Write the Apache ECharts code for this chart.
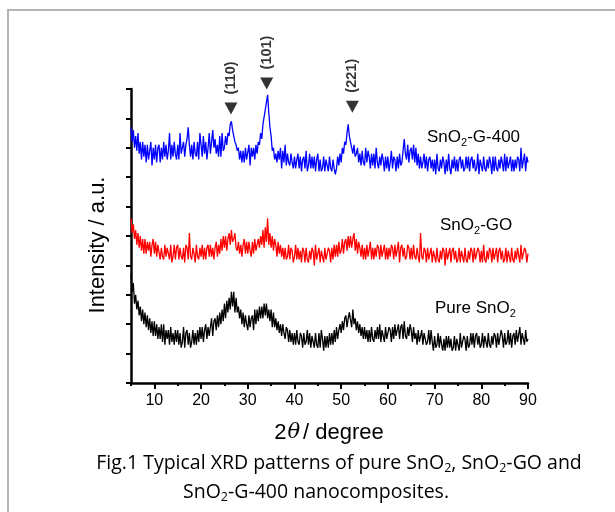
<!DOCTYPE html>
<html>
<head>
<meta charset="utf-8">
<script src="https://cdn.jsdelivr.net/npm/echarts@6/dist/echarts.min.js"></script>
<style>
  html, body { margin: 0; padding: 0; background: #fff; }
  #chart { width: 615px; height: 512px; }
</style>
</head>
<body>
<div id="chart"></div>
<script>
// 2θ scan: 5° to 90° sampled every 0.25°
const START_ANGLE = 5;
const STEP = 0.25;

// Intensities (arbitrary units, stacked offsets) one row per degree: x.00, x.25, x.50, x.75
const sno2G400 = [
  87,82,86,80, 84,79,85,78, 82,76,82,77, 81,75,81,76, 79,82,74,80,
  76,81,75,80, 81,75,80,76, 82,77,81,76, 79,85,76,81, 77,82,78,76,
  81,76,85,78, 78,82,77,81, 83,87,81,77, 81,76,82,78, 77,82,76,85,
  81,77,84,78, 82,76,80,85, 78,82,86,80, 83,78,81,77, 84,77,85,79,
  80,84,81,85, 84,88,89,86, 86,82,81,79, 80,76,79,75, 79,75,80,76,
  76,81,74,80, 77,80,76,81, 78,82,81,85, 83,88,88,93, 93,98,92,87,
  84,79,80,76, 78,75,79,76, 80,73,79,75, 81,74,78,75, 74,78,75,73,
  77,73,76,78, 73,77,72,76, 77,73,79,72, 74,78,73,77, 73,77,72,76,
  78,72,76,72, 73,77,72,76, 76,72,77,73, 72,76,73,71, 73,77,74,78,
  75,80,78,82, 81,85,88,84, 84,80,78,81, 77,78,80,75, 78,74,79,75,
  74,80,75,79, 77,73,78,74, 78,73,80,75, 73,77,74,78, 76,72,77,73,
  77,72,75,79, 73,77,76,72, 77,73,78,74, 75,79,83,78, 76,81,75,79,
  80,76,81,75, 80,74,78,73, 77,73,75,78, 73,77,72,76, 77,73,76,72,
  76,71,78,73, 72,76,73,77, 75,71,76,72, 78,73,71,76, 73,77,72,76,
  72,76,77,73, 76,72,73,77, 73,77,72,76, 77,73,76,72, 73,78,71,76,
  76,72,77,73, 72,76,73,77, 75,71,77,72, 77,73,72,76, 73,77,75,72,
  78,72,77,73, 73,77,72,76, 72,76,73,77, 76,72,80,73, 73,78,72,77,
  75
];

const sno2GO = [
  56,51,54,49, 52,47,51,46, 50,45,49,44, 49,44,48,45, 48,43,47,49,
  44,48,43,47, 47,42,46,43, 42,47,43,46, 46,42,47,41, 43,47,42,46,
  47,42,46,43, 42,46,41,47, 46,42,51,43, 42,46,44,41, 47,43,42,46,
  43,47,42,46, 42,46,47,43, 47,43,46,42, 46,48,43,47, 44,49,45,50,
  46,50,45,49, 51,47,52,48, 49,51,46,45, 48,44,47,43, 47,49,44,48,
  44,48,45,43, 48,44,49,45, 45,49,46,50, 47,52,46,53, 48,56,47,51,
  46,50,45,49, 47,43,48,44, 47,43,46,42, 46,42,43,47, 42,46,45,41,
  43,47,42,46, 42,45,41,46, 45,41,46,42, 41,45,42,46, 45,40,47,42,
  42,46,41,45, 45,41,46,42, 42,46,45,41, 46,42,47,43, 47,43,48,44,
  45,49,44,48, 49,45,50,46, 50,46,49,51, 45,49,44,48, 46,43,47,42,
  46,42,47,43, 43,48,42,46, 42,46,43,47, 46,42,47,43, 43,47,42,46,
  42,46,43,47, 46,42,47,43, 43,48,41,46, 47,43,46,42, 43,47,46,42,
  46,42,47,43, 42,46,43,41, 51,43,42,46, 45,41,46,42, 42,46,41,45,
  45,41,46,42, 41,45,42,46, 45,40,46,42, 42,46,41,45, 46,42,45,41,
  42,46,41,45, 45,41,46,42, 41,45,42,46, 45,41,46,42, 42,46,45,41,
  45,41,47,42, 41,45,42,46, 45,41,46,42, 42,46,41,45, 46,42,45,41,
  42,46,41,45, 45,41,46,42, 41,45,42,46, 46,41,47,42, 42,46,45,41,
  44
];

const pureSnO2 = [
  37,31,34,27, 30,25,28,23, 26,21,25,20, 24,19,23,18, 22,17,21,16,
  21,16,20,15, 19,15,20,14, 20,13,18,15, 18,13,19,14, 17,13,18,14,
  18,13,17,12, 14,19,12,17, 18,13,17,12, 14,18,13,17, 13,18,14,19,
  15,19,14,18, 20,15,19,16, 16,22,16,21, 22,18,23,19, 24,20,25,21,
  27,22,28,24, 29,25,31,26, 31,24,29,24, 26,22,25,20, 24,19,23,20,
  18,23,19,22, 23,18,25,20, 25,21,26,22, 26,22,27,23, 27,22,25,21,
  25,19,24,19, 22,18,21,17, 20,16,20,17, 15,19,18,14, 18,14,17,13,
  17,13,18,14, 13,17,16,12, 17,13,14,18, 13,17,12,16, 16,12,17,13,
  12,17,12,18, 15,11,16,12, 16,12,17,13, 17,13,18,14, 19,15,18,20,
  17,21,18,22, 23,19,22,24, 24,19,25,20, 22,18,21,17, 20,16,19,15,
  19,15,18,14, 18,14,19,15, 14,18,15,19, 15,20,14,18, 18,14,19,15,
  15,19,18,14, 19,15,20,16, 16,20,15,19, 20,15,21,16, 15,19,16,20,
  18,14,19,15, 17,13,18,14, 14,18,13,17, 17,13,14,18, 13,18,14,11,
  16,12,13,17, 12,16,13,11, 15,11,16,12, 16,12,15,11, 12,16,11,15,
  15,11,17,12, 12,16,15,11, 16,12,13,17, 13,17,12,16, 17,13,16,12,
  13,17,12,16, 16,12,17,13, 12,16,13,17, 16,12,17,13, 13,18,16,12,
  17,13,14,18, 13,17,12,16, 17,13,18,14, 14,19,13,17, 17,13,18,14,
  15
];

// Reflection markers
const peakAngles = [26.4, 34.05, 52.4];
const peakHeights = [93.4, 101.9, 94.0];
const peakLabels = ['(110)', '(101)', '(221)'];

// x-axis labelled ticks
const xTickLabels = [10, 20, 30, 40, 50, 60, 70, 80, 90];

function toPairs(values) {
  return values.map((v, i) => [START_ANGLE + i * STEP, v]);
}

const GRID_LEFT = 131, GRID_RIGHT = 87, GRID_TOP = 89, GRID_BOTTOM = 129;
const X_MIN = 5, X_MAX = 90;
const gridWidth = 615 - GRID_LEFT - GRID_RIGHT;
// second grid carries the long ticks and labels at multiples of 10
const labelGridLeft = GRID_LEFT + gridWidth * (xTickLabels[0] - X_MIN) / (X_MAX - X_MIN);

const AXIS_FONT = 'Liberation Sans, Arial, sans-serif';
const CAPTION_FONT = '"Open Sans", sans-serif';

const chart = echarts.init(document.getElementById('chart'), null, { renderer: 'canvas' });

const option = {
  animation: false,
  backgroundColor: '#fff',
  grid: [
    { left: GRID_LEFT, right: GRID_RIGHT, top: GRID_TOP, bottom: GRID_BOTTOM },
    { left: labelGridLeft, right: GRID_RIGHT, top: GRID_TOP, bottom: GRID_BOTTOM }
  ],
  xAxis: [
    {
      gridIndex: 0, type: 'value', min: X_MIN, max: X_MAX, interval: 5,
      axisLine: { show: true, lineStyle: { color: '#000', width: 2.5 } },
      axisTick: { show: true, length: 3, lineStyle: { color: '#000', width: 2 } },
      axisLabel: { show: false },
      splitLine: { show: false }
    },
    {
      gridIndex: 1, type: 'value', min: xTickLabels[0], max: xTickLabels[xTickLabels.length - 1], interval: 10,
      axisLine: { show: false },
      axisTick: { show: true, length: 6, lineStyle: { color: '#000', width: 2 } },
      axisLabel: { show: true, color: '#000', fontSize: 16, fontFamily: AXIS_FONT, margin: 10 },
      splitLine: { show: false }
    }
  ],
  yAxis: [
    {
      gridIndex: 0, type: 'value', min: 0, max: 100, interval: 10,
      axisLine: { show: true, lineStyle: { color: '#000', width: 2.5 } },
      axisTick: { show: true, length: 5, lineStyle: { color: '#000', width: 2 } },
      axisLabel: { show: false },
      splitLine: { show: false }
    },
    { gridIndex: 1, type: 'value', min: 0, max: 100, show: false, splitLine: { show: false } }
  ],
  series: [
    {
      name: 'Pure SnO2', type: 'line', xAxisIndex: 0, yAxisIndex: 0,
      data: toPairs(pureSnO2), showSymbol: false, symbol: 'none',
      lineStyle: { color: '#000', width: 1.3 }, z: 3
    },
    {
      name: 'SnO2-GO', type: 'line', xAxisIndex: 0, yAxisIndex: 0,
      data: toPairs(sno2GO), showSymbol: false, symbol: 'none',
      lineStyle: { color: '#ff0000', width: 1.3 }, z: 3
    },
    {
      name: 'SnO2-G-400', type: 'line', xAxisIndex: 0, yAxisIndex: 0,
      data: toPairs(sno2G400), showSymbol: false, symbol: 'none',
      lineStyle: { color: '#0000ff', width: 1.3 }, z: 3
    },
    {
      name: 'peaks', type: 'scatter', xAxisIndex: 0, yAxisIndex: 0, clip: false,
      symbol: 'triangle', symbolRotate: 180, symbolSize: [13, 12],
      itemStyle: { color: '#000' },
      data: peakAngles.map((a, i) => ({ value: [a, peakHeights[i]], name: peakLabels[i] })),
      label: {
        show: true, position: 'top', distance: 8, rotate: 90,
        align: 'left', verticalAlign: 'middle',
        formatter: p => p.name,
        color: '#000', fontSize: 14.5, fontWeight: 'bold', fontFamily: AXIS_FONT
      },
      z: 4
    }
  ],
  graphic: [
    // frame around the figure
    {
      type: 'rect', shape: { x: 8, y: 10, width: 700, height: 600 },
      style: { fill: 'none', stroke: '#b4b4b4', lineWidth: 2 }, silent: true, z: -1
    },
    // axis titles
    {
      type: 'text', x: 98, y: 245, rotation: Math.PI / 2,
      style: {
        text: 'Intensity / a.u.', fill: '#000', font: '22px ' + AXIS_FONT,
        align: 'center', verticalAlign: 'middle'
      }
    },
    {
      type: 'text', x: 329, y: 433,
      style: {
        text: '2{t|θ}/ degree', fill: '#000', font: '22px ' + AXIS_FONT,
        align: 'center', verticalAlign: 'middle',
        rich: { t: { fontFamily: 'DejaVu Serif', fontStyle: 'italic', fontSize: 21, padding: [0, 3, 0, 1] } }
      }
    },
    // series names
    {
      type: 'text', x: 427, y: 137,
      style: {
        text: 'SnO{s|2}-G-400', fill: '#000', font: '17px ' + AXIS_FONT,
        verticalAlign: 'middle',
        rich: { s: { fontSize: 11, fontFamily: AXIS_FONT, padding: [12, 0, 0, 0] } }
      }
    },
    {
      type: 'text', x: 440, y: 225,
      style: {
        text: 'SnO{s|2}-GO', fill: '#000', font: '17px ' + AXIS_FONT,
        verticalAlign: 'middle',
        rich: { s: { fontSize: 11, fontFamily: AXIS_FONT, padding: [12, 0, 0, 0] } }
      }
    },
    {
      type: 'text', x: 435, y: 308,
      style: {
        text: 'Pure SnO{s|2}', fill: '#000', font: '17px ' + AXIS_FONT,
        verticalAlign: 'middle',
        rich: { s: { fontSize: 11, fontFamily: AXIS_FONT, padding: [12, 0, 0, 0] } }
      }
    },
    // caption
    {
      type: 'text', x: 339, y: 463,
      style: {
        text: 'Fig.1 Typical XRD patterns of pure SnO{s|2}, SnO{s|2}-GO and',
        fill: '#000', font: '19.5px ' + CAPTION_FONT,
        align: 'center', verticalAlign: 'middle',
        rich: { s: { fontSize: 12.5, fontFamily: 'Open Sans', padding: [11, 0, 0, 0] } }
      }
    },
    {
      type: 'text', x: 316, y: 492,
      style: {
        text: 'SnO{s|2}-G-400 nanocomposites.',
        fill: '#000', font: '19.5px ' + CAPTION_FONT,
        align: 'center', verticalAlign: 'middle',
        rich: { s: { fontSize: 12.5, fontFamily: 'Open Sans', padding: [11, 0, 0, 0] } }
      }
    }
  ]
};

chart.setOption(option);
</script>
</body>
</html>
